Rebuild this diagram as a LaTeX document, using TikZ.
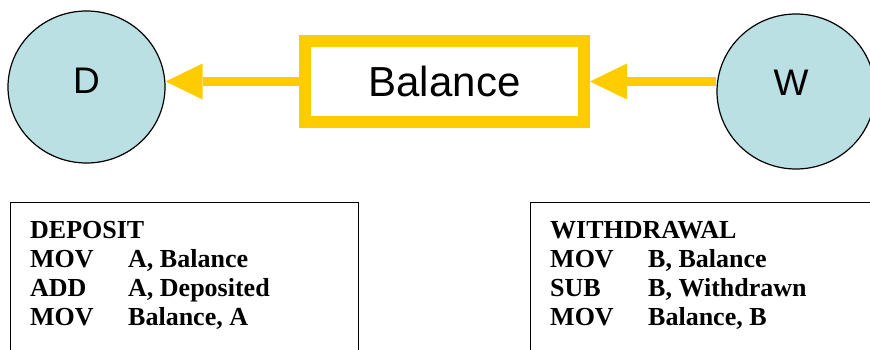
\documentclass[tikz,border=0pt]{standalone}
\usepackage{fontspec}
\setmainfont{Liberation Serif}
\newfontfamily\sansf{Liberation Sans}
\usetikzlibrary{shapes.geometric,arrows.meta}
\definecolor{bubble}{RGB}{186,224,227}
\definecolor{gold}{RGB}{255,204,0}
\begin{document}
\begin{tikzpicture}[x=1pt,y=-1pt,
  bub/.style={ellipse, draw=black, line width=1.2pt, fill=bubble, inner sep=0pt},
  bubtext/.style={font=\sansf\fontsize{37}{40}\selectfont, inner sep=0pt},
  balbox/.style={draw=gold, line width=12pt, fill=white, font=\sansf\fontsize{42}{46}\selectfont, inner sep=0pt},
  conn/.style={draw=gold, line width=9pt, -{Triangle[length=37pt 0 0, width=36pt 0 0, line width=0pt 0]}},
  codebox/.style={draw=black, line width=1.4pt, inner sep=0pt, minimum height=170pt},
  code/.style={font=\bfseries\fontsize{26}{29}\selectfont, anchor=base west, inner sep=0pt}]
\useasboundingbox (0,0) rectangle (870,350);
% process bubbles
\node[bub, minimum width=157pt, minimum height=152pt] (D) at (86.5,87) {};
\node[bubtext] (Dt) at (86.5,81) {D};
\node[bub, minimum width=158pt, minimum height=155pt] (W) at (796,91.5) {};
\node[bubtext] (Wt) at (791,83) {W};
% shared variable
\node[balbox, minimum width=279pt, minimum height=81pt] (B) at (444.5,81.5) {Balance};
% connectors
\draw[conn] (B.west) -- (B.west -| D.east);
\draw[conn] (B.east -| W.west) -- (B.east);
% code boxes
\node[codebox, minimum width=348pt, anchor=north west] (DB) at (10,202) {};
\node[codebox, minimum width=360pt, anchor=north west] (WB) at (530,202) {};
% deposit code
\node[code] (d0) at (30,238) {DEPOSIT};
\node[code] (d1a) at (30,267) {MOV};
\node[code] (d1b) at (128,267) {A, Balance};
\node[code] (d2a) at (30,296) {ADD};
\node[code] (d2b) at (128,296) {A, Deposited};
\node[code] (d3a) at (30,325) {MOV};
\node[code] (d3b) at (128,325) {Balance, A};
% withdrawal code
\node[code] (w0) at (550,238) {WITHDRAWAL};
\node[code] (w1a) at (550,267) {MOV};
\node[code] (w1b) at (648,267) {B, Balance};
\node[code] (w2a) at (550,296) {SUB};
\node[code] (w2b) at (648,296) {B, Withdrawn};
\node[code] (w3a) at (550,325) {MOV};
\node[code] (w3b) at (648,325) {Balance, B};
\end{tikzpicture}
\end{document}
